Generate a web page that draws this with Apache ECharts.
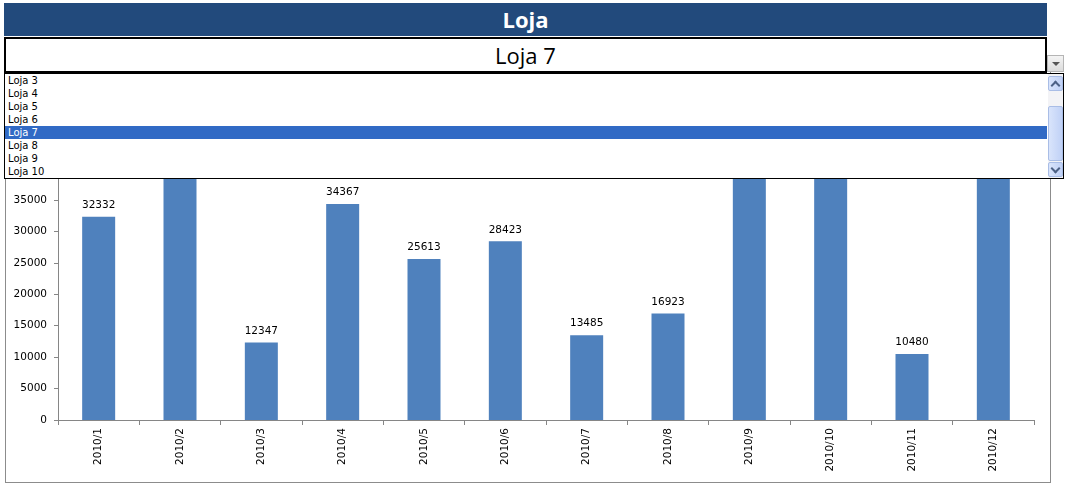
<!DOCTYPE html>
<html lang="pt">
<head>
<meta charset="UTF-8">
<title>Loja</title>
<script src="https://cdn.jsdelivr.net/npm/echarts@6/dist/echarts.min.js"></script>
<style>
	body{margin:0;width:1066px;height:486px;background:#fff;position:relative;overflow:hidden;font-family:"DejaVu Sans",sans-serif;}
	#chartBox{position:absolute;left:5px;top:60px;width:1044px;height:422px;border:1px solid #8c8c8c;border-top:none;}
	#main{position:absolute;left:0;top:0;width:1066px;height:486px;}
	.header{position:absolute;left:4px;top:3px;width:1043px;height:33px;background:#224a7c;color:#fff;font:bold 22px "Open Sans","DejaVu Sans",sans-serif;text-align:center;line-height:33px;}
	.combo{position:absolute;left:4px;top:37px;width:1039px;height:32px;border:2px solid #000;background:#fff;font:22px "Open Sans","DejaVu Sans",sans-serif;text-align:center;line-height:32px;color:#000;}
	.comboBtn{position:absolute;left:1047px;top:55px;width:15px;height:15px;border:1px solid #b5b5b5;background:linear-gradient(#f4f4f4,#dcdcdc);}
	.comboBtn:after{content:"";position:absolute;left:4px;top:6px;border-left:4px solid transparent;border-right:4px solid transparent;border-top:4px solid #555;}
	.dropList{position:absolute;left:4px;top:73px;width:1058px;height:104px;border:1px solid #000;background:#fff;}
	.dropList ul{margin:0;padding:0;list-style:none;width:1042px;}
	.dropList li{height:13px;line-height:13px;font:10px "DejaVu Sans",sans-serif;line-height:13px;padding-left:3px;color:#000;}
	.dropList li.beChose{background:#316ac5;color:#fff;}
	.scroll{position:absolute;left:1043px;top:0;width:15px;height:104px;background:#f3f3f6;}
	.scroll .up,.scroll .down,.scroll .thumb{position:absolute;left:0;width:13px;border:1px solid #a9bde6;border-radius:2px;background:linear-gradient(90deg,#d9e4fb,#c0d1f6);}
	.scroll .up{top:2px;height:13px;}
	.scroll .down{top:88px;height:13px;}
	.scroll .thumb{top:32px;height:53px;}
	.scroll .up:after,.scroll .down:after{content:"";position:absolute;left:3px;width:5px;height:5px;border-left:2px solid #4d6185;border-top:2px solid #4d6185;}
	.scroll .up:after{top:5px;transform:rotate(45deg);}
	.scroll .down:after{top:2px;transform:rotate(225deg);}
</style>
</head>
<body>
<div id="chartBox"></div>
<div id="main"></div>
<div class="header">Loja</div>
<div class="combo">Loja 7</div>
<div class="comboBtn"></div>
<div class="dropList">
	<ul id="lojaList"></ul>
	<div class="scroll"><div class="up"></div><div class="thumb"></div><div class="down"></div></div>
</div>
<script>
	// meses
	var meses = ['2010/1','2010/2','2010/3','2010/4','2010/5','2010/6','2010/7','2010/8','2010/9','2010/10','2010/11','2010/12'];
	// vendas da loja 7 (2, 9, 10 e 12 ficam escondidos atras da lista)
	var vendas = [32332, 42150, 12347, 34367, 25613, 28423, 13485, 16923, 44870, 41260, 10480, 46310];
	// lojas visiveis na lista
	var lojas = ['Loja 3','Loja 4','Loja 5','Loja 6','Loja 7','Loja 8','Loja 9','Loja 10'];
	var lojaSel = 'Loja 7';

	var html = '';
	for (var i = 0; i < lojas.length; i++) {
		html += '<li' + (lojas[i] == lojaSel ? ' class="beChose"' : '') + '>' + lojas[i] + '</li>';
	}
	document.getElementById('lojaList').innerHTML = html;

	var myChart = echarts.init(document.getElementById('main'));
	var option = {
		animation: false,
		textStyle: { fontFamily: 'DejaVu Sans' },
		grid: { left: 58, right: 32, top: 105.7, bottom: 66 },
		xAxis: {
			type: 'category',
			data: meses,
			axisLine: { lineStyle: { color: '#868686', width: 1 } },
			axisTick: { show: true, alignWithLabel: false, length: 5, lineStyle: { color: '#868686' } },
			axisLabel: { rotate: 90, color: '#000', fontSize: 10.5, margin: 8, interval: 0 }
		},
		yAxis: {
			type: 'value',
			min: 0,
			max: 50000,
			interval: 5000,
			axisLine: { show: true, lineStyle: { color: '#868686' } },
			axisTick: { show: true, length: 4, lineStyle: { color: '#868686' } },
			axisLabel: { color: '#000', fontSize: 10.5, margin: 11, formatter: function (v) { return String(v); } },
			splitLine: { show: false }
		},
		series: [{
			type: 'bar',
			data: vendas,
			barWidth: 33,
			itemStyle: { color: '#4f81bd' },
			label: { show: true, position: 'top', distance: 6, color: '#000', fontSize: 10.5 }
		}]
	};
	myChart.setOption(option);
</script>
</body>
</html>
